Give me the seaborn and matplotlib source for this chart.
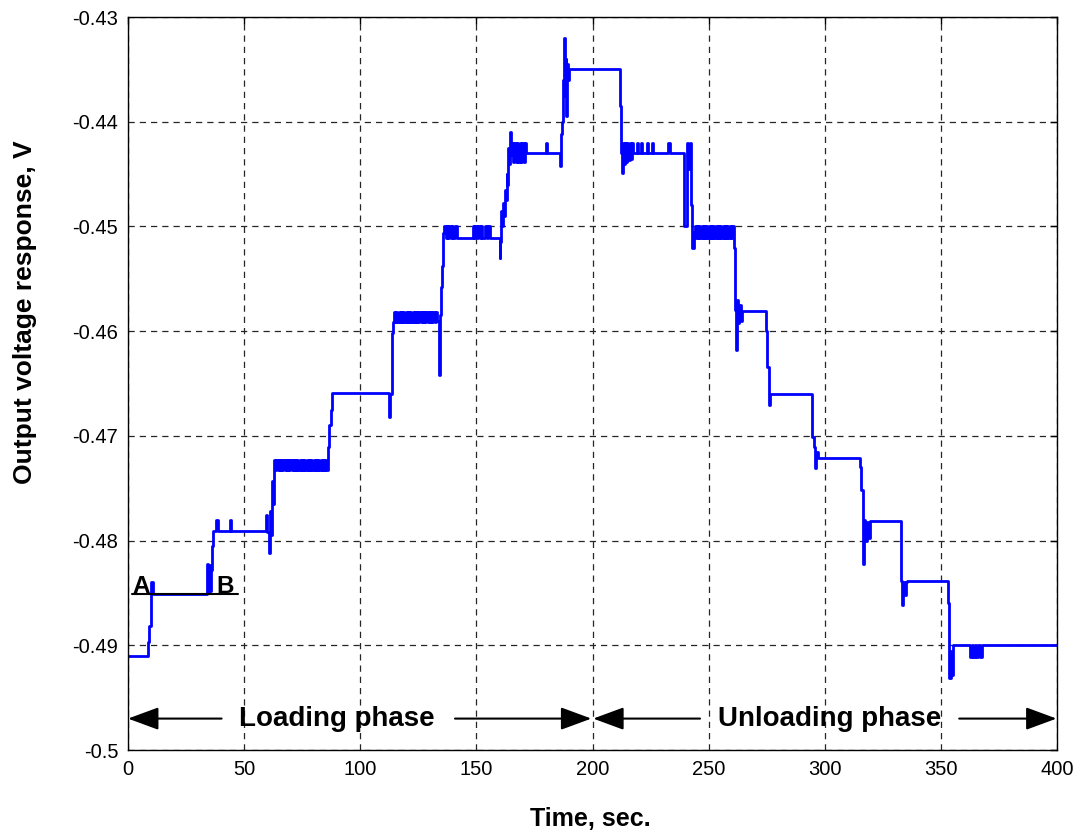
import numpy as np
import pandas as pd
import matplotlib
matplotlib.use("Agg")
import matplotlib.pyplot as plt
import seaborn as sns

# ---------------- data ----------------
# loading phase: step segments and dense oscillation bands
seg_a_t = [0, 8.7, 9.2, 10.0, 10.6, 34.0, 34.4, 34.8, 35.2, 35.6, 36.0, 36.6, 38.0, 38.7, 44.0, 44.5,
           59.5, 60.0, 60.6, 61.0, 61.5, 61.9, 62.4, 62.9]
seg_a_v = [-0.4910, -0.4897, -0.4882, -0.4840, -0.4851, -0.4822, -0.4850, -0.4823, -0.4848, -0.4828,
           -0.4805, -0.4791, -0.4780, -0.4791, -0.4780, -0.4791,
           -0.4776, -0.4792, -0.4812, -0.4772, -0.4795, -0.4743, -0.4765, -0.4723]

band_a_t = [63.4, 63.9, 64.4, 64.9, 65.4, 65.9, 66.4, 66.9, 67.4, 67.9,
            68.4, 68.9, 69.4, 69.9, 70.4, 70.9, 71.4, 71.9, 72.4, 72.9,
            73.4, 73.9, 74.4, 74.9, 75.4, 75.9, 76.4, 76.9, 77.4, 77.9,
            78.4, 78.9, 79.4, 79.9, 80.4, 80.9, 81.4, 81.9, 82.4, 82.9,
            83.4, 83.9, 84.4, 84.9, 85.4]
band_a_v = [-0.4733, -0.4723, -0.4733, -0.4723, -0.4733, -0.4723, -0.4733, -0.4723, -0.4733, -0.4723,
            -0.4733, -0.4723, -0.4733, -0.4723, -0.4733, -0.4723, -0.4733, -0.4723, -0.4733, -0.4723,
            -0.4733, -0.4723, -0.4733, -0.4723, -0.4733, -0.4723, -0.4733, -0.4723, -0.4733, -0.4723,
            -0.4733, -0.4723, -0.4733, -0.4723, -0.4733, -0.4723, -0.4733, -0.4723, -0.4733, -0.4723,
            -0.4733, -0.4723, -0.4733, -0.4723, -0.4733]

seg_b_t = [86.0, 86.6, 87.2, 87.8, 112.4, 112.9, 113.5, 114.0]
seg_b_v = [-0.4711, -0.4690, -0.4675, -0.4659, -0.4682, -0.4660, -0.4602, -0.4591]

band_b_t = [114.5, 115.0, 115.5, 116.0, 116.5, 117.0, 117.5, 118.0, 118.5, 119.0,
            119.5, 120.0, 120.5, 121.0, 121.5, 122.0, 122.5, 123.0, 123.5, 124.0,
            124.5, 125.0, 125.5, 126.0, 126.5, 127.0, 127.5, 128.0, 128.5, 129.0,
            129.5, 130.0, 130.5, 131.0, 131.5, 132.0, 132.5, 133.0]
band_b_v = [-0.4582, -0.4591, -0.4582, -0.4591, -0.4582, -0.4591, -0.4582, -0.4591, -0.4582, -0.4591,
            -0.4582, -0.4591, -0.4582, -0.4591, -0.4582, -0.4591, -0.4582, -0.4591, -0.4582, -0.4591,
            -0.4582, -0.4591, -0.4582, -0.4591, -0.4582, -0.4591, -0.4582, -0.4591, -0.4582, -0.4591,
            -0.4582, -0.4591, -0.4582, -0.4591, -0.4582, -0.4591, -0.4582, -0.4590]

seg_c_t = [133.8, 134.2, 134.7, 135.2, 135.7,
           136.2, 136.8, 137.3, 137.9, 138.4, 139.0, 139.5, 140.1, 140.6, 141.5,
           148.4, 149.0, 149.5, 150.4, 150.8, 151.5, 152.0, 152.3, 153.7, 154.4, 154.9, 155.9,
           160.0, 160.2, 160.6, 161.0, 161.4, 161.8, 162.2, 162.6, 163.0, 163.4, 163.8, 164.2, 164.6, 165.0,
           165.3, 165.9, 166.4, 167.0, 167.5, 168.1, 168.6, 169.2, 169.7, 170.3, 170.8, 171.3,
           180.0, 180.6, 185.9, 186.4, 186.8, 187.1, 187.4, 187.7, 188.0, 188.4, 188.8, 189.1, 189.5, 190.0]
seg_c_v = [-0.4642, -0.4585, -0.4558, -0.4538, -0.4506,
           -0.4500, -0.4511, -0.4500, -0.4511, -0.4500, -0.4511, -0.4500, -0.4511, -0.4500, -0.4511,
           -0.4500, -0.4511, -0.4500, -0.4511, -0.4500, -0.4511, -0.4500, -0.4511, -0.4500, -0.4511,
           -0.4500, -0.4511,
           -0.4530, -0.4515, -0.4485, -0.4500, -0.4478, -0.4490, -0.4465, -0.4475, -0.4450, -0.4460,
           -0.4425, -0.4440, -0.4410, -0.4432,
           -0.4420, -0.4438, -0.4420, -0.4438, -0.4420, -0.4438, -0.4420, -0.4438, -0.4420, -0.4438,
           -0.4420, -0.4430,
           -0.4420, -0.4430, -0.4442, -0.4412, -0.4400, -0.4375, -0.4360, -0.4320, -0.4375, -0.4340,
           -0.4395, -0.4345, -0.4360, -0.4350]

# unloading phase
seg_d_t = [211.8, 212.2, 212.6, 213.0, 213.5, 214.0, 214.5, 215.0, 215.5, 216.0, 216.5, 217.0, 217.6,
           219.0, 219.5, 221.0, 221.4, 223.4, 223.8, 225.8, 226.2, 232.3, 233.3,
           239.4, 240.6, 241.2, 241.8, 242.5, 243.0, 243.5]
seg_d_v = [-0.4385, -0.4430, -0.4449, -0.4420, -0.4440, -0.4420, -0.4438, -0.4420, -0.4437, -0.4420,
           -0.4436, -0.4420, -0.4430,
           -0.4420, -0.4430, -0.4420, -0.4430, -0.4420, -0.4430, -0.4420, -0.4430, -0.4420, -0.4430,
           -0.4500, -0.4420, -0.4445, -0.4420, -0.4480, -0.4521, -0.4505]

band_c_t = [244.0, 244.5, 245.0, 245.5, 246.0, 246.5, 247.0, 247.5, 248.0, 248.5,
            249.0, 249.5, 250.0, 250.5, 251.0, 251.5, 252.0, 252.5, 253.0, 253.5,
            254.0, 254.5, 255.0, 255.5, 256.0, 256.5, 257.0, 257.5, 258.0, 258.5,
            259.0, 259.5, 260.0]
band_c_v = [-0.4500, -0.4511, -0.4500, -0.4511, -0.4500, -0.4511, -0.4500, -0.4511, -0.4500, -0.4511,
            -0.4500, -0.4511, -0.4500, -0.4511, -0.4500, -0.4511, -0.4500, -0.4511, -0.4500, -0.4511,
            -0.4500, -0.4511, -0.4500, -0.4511, -0.4500, -0.4511, -0.4500, -0.4511, -0.4500, -0.4511,
            -0.4500, -0.4511, -0.4500]

seg_e_t = [261.0, 261.4, 261.8, 262.2, 262.7, 263.2, 263.8, 264.5,
           274.7, 275.2, 275.8, 276.1, 276.5,
           294.6, 295.2, 295.8, 296.4, 297.0,
           315.2, 315.8, 316.4, 316.9, 317.5, 318.1, 318.7, 319.4,
           333.0, 333.3, 333.8, 334.4, 335.0, 335.5,
           353.0, 353.6, 354.2, 354.7, 355.3,
           362.5, 363.3, 363.9, 364.7, 365.3, 366.1, 366.7, 367.7, 400.0]
seg_e_v = [-0.4521, -0.4580, -0.4618, -0.4570, -0.4592, -0.4575, -0.4590, -0.4581,
           -0.4600, -0.4634, -0.4641, -0.4671, -0.4660,
           -0.4701, -0.4711, -0.4731, -0.4715, -0.4721,
           -0.4730, -0.4752, -0.4822, -0.4780, -0.4800, -0.4782, -0.4798, -0.4781,
           -0.4839, -0.4862, -0.4840, -0.4852, -0.4840, -0.4839,
           -0.4860, -0.4931, -0.4905, -0.4928, -0.4900,
           -0.4911, -0.4900, -0.4911, -0.4900, -0.4911, -0.4900, -0.4911, -0.4900, -0.4900]

x_ticks = [0, 50, 100, 150, 200, 250, 300, 350, 400]
x_tick_labels = ["0", "50", "100", "150", "200", "250", "300", "350", "400"]
y_ticks = [-0.5, -0.49, -0.48, -0.47, -0.46, -0.45, -0.44, -0.43]
y_tick_labels = ["-0.5", "-0.49", "-0.48", "-0.47", "-0.46", "-0.45", "-0.44", "-0.43"]

ab_level = -0.4851
ab_span = [1.7, 47.4]
phase_y = -0.4970

# ---------------- style ----------------
sns.set_theme(style="white")
plt.rcParams["font.family"] = ["Liberation Sans", "DejaVu Sans"]
plt.rcParams["text.color"] = "black"
plt.rcParams["axes.edgecolor"] = "black"
plt.rcParams["axes.linewidth"] = 1.0

fig = plt.figure(figsize=(10.75, 8.3), dpi=100)
ax = fig.add_axes([128 / 1075, 1 - 750 / 830, (1057 - 128) / 1075, (750 - 17) / 830])

t_all = seg_a_t + band_a_t + seg_b_t + band_b_t + seg_c_t + seg_d_t + band_c_t + seg_e_t
v_all = seg_a_v + band_a_v + seg_b_v + band_b_v + seg_c_v + seg_d_v + band_c_v + seg_e_v
df = pd.DataFrame({"t": t_all, "v": v_all})
sns.lineplot(data=df, x="t", y="v", ax=ax, color="#0000FF", linewidth=2.0,
             estimator=None, sort=False, drawstyle="steps-post")

ax.set_xlim(0, 400)
ax.set_ylim(-0.5, -0.43)
ax.set_xticks(x_ticks)
ax.set_xticklabels(x_tick_labels)
ax.set_yticks(y_ticks)
ax.set_yticklabels(y_tick_labels)
ax.tick_params(axis="both", direction="in", length=5, width=1, color="black",
               top=True, right=True, labelsize=14.5, pad=7, labelcolor="black")
ax.grid(True, color="0.15", linestyle=(0, (5, 4)), linewidth=0.9)
for s in ax.spines.values():
    s.set_color("black")
    s.set_linewidth(1.0)
ax.set_xlabel("")
ax.set_ylabel("")

# A - B reference line
ax.plot(ab_span, [ab_level, ab_level], color="black", linewidth=1.5)
ax.text(5.6, ab_level + 0.00005, "A", fontsize=17.5, fontweight="bold", ha="center", va="baseline")
ax.text(41.8, ab_level + 0.00005, "B", fontsize=17.5, fontweight="bold", ha="center", va="baseline")

# phase arrows
arrow_kw = dict(arrowstyle="-|>,head_length=1.9,head_width=0.7", mutation_scale=10,
                color="black", lw=1.5, shrinkA=0, shrinkB=0)
ax.annotate("", xy=(0.0, phase_y), xytext=(40.3, phase_y), arrowprops=arrow_kw)
ax.annotate("", xy=(199.5, phase_y), xytext=(140.8, phase_y), arrowprops=arrow_kw)
ax.annotate("", xy=(200.3, phase_y), xytext=(246.3, phase_y), arrowprops=arrow_kw)
ax.annotate("", xy=(399.8, phase_y), xytext=(357.9, phase_y), arrowprops=arrow_kw)
ax.text(90.0, phase_y, "Loading phase", fontsize=20, fontweight="bold", ha="center", va="center")
ax.text(302.0, phase_y, "Unloading phase", fontsize=20, fontweight="bold", ha="center", va="center")

# axis labels
fig.text(590 / 1075, 1 - 826 / 830, "Time, sec.", fontsize=18, fontweight="bold",
         ha="center", va="baseline")
fig.text(25 / 1075, 1 - 312 / 830, "Output voltage response, V", fontsize=19, fontweight="bold",
         ha="center", va="center", rotation=90)

fig.savefig("out.png", dpi=100, facecolor="white")
